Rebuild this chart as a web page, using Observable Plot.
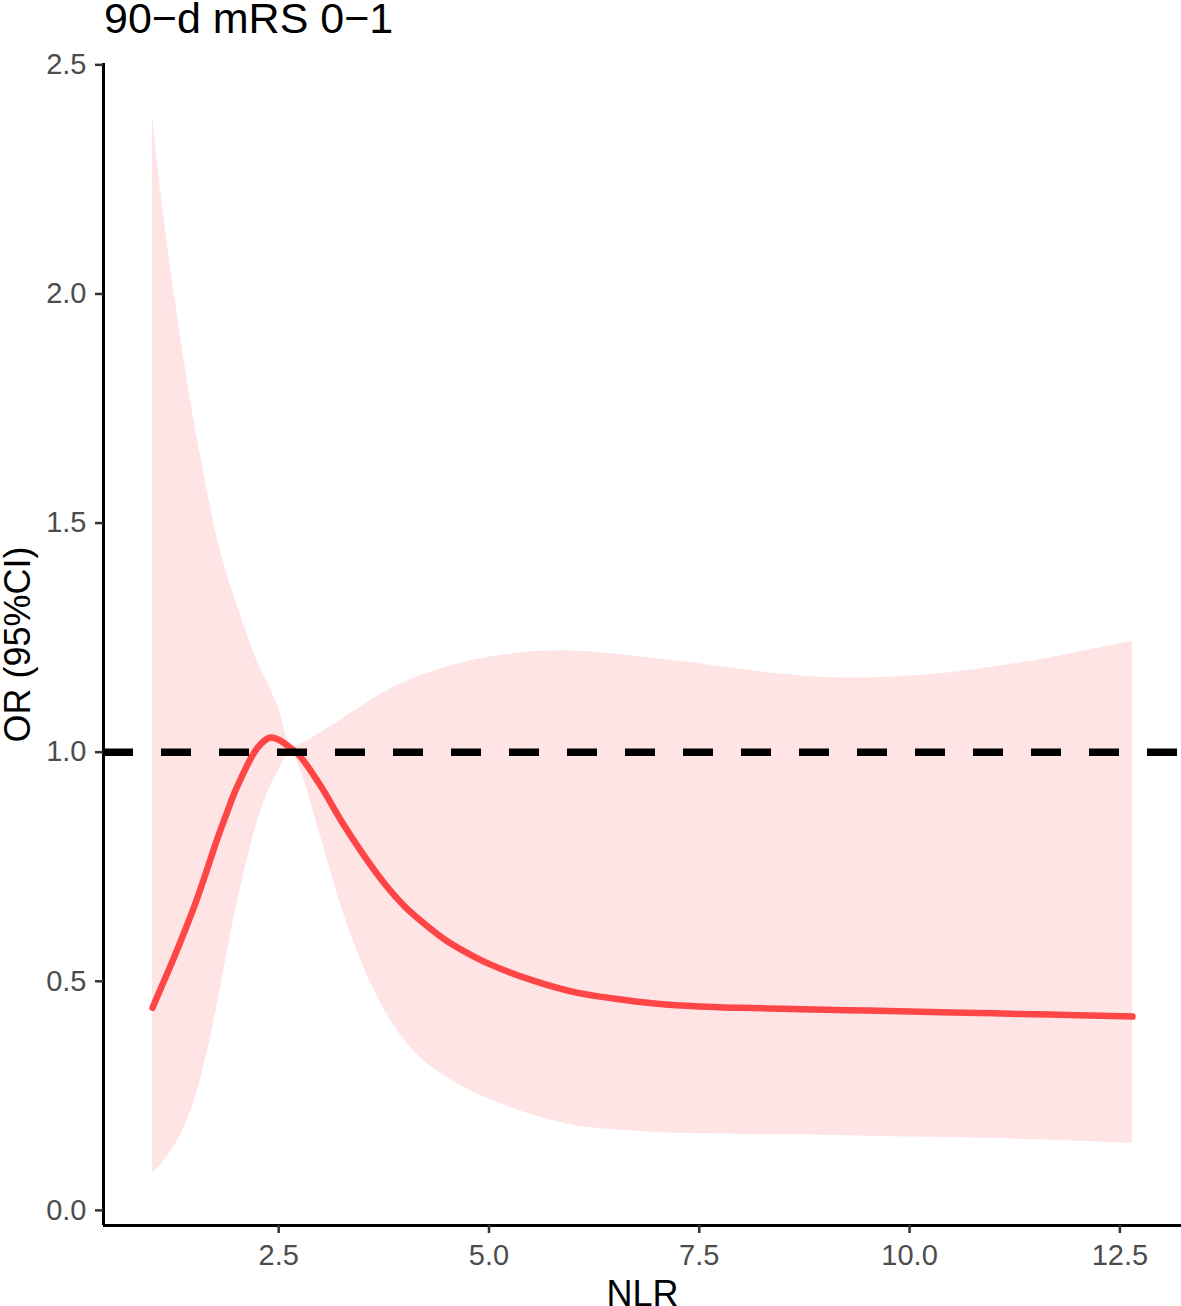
<!DOCTYPE html>
<html>
<head>
<meta charset="utf-8">
<script src="https://cdn.jsdelivr.net/npm/d3@7"></script>
<script src="https://cdn.jsdelivr.net/npm/@observablehq/plot@0.6"></script>
<style>
  body { margin: 0; background: #fff; font-family: "Liberation Sans", Arial, sans-serif; }
  #title { position: relative; height: 44px; width: 1181px; }
  #title span { position: absolute; left: 104px; top: -3px; font-size: 43px; line-height: 43px; color: #000; white-space: nowrap; }
</style>
</head>
<body>
<div id="title"><span>90−d mRS 0−1</span></div>
<div id="chart"></div>
<script>
// NLR values (x) and odds ratio estimates with 95% CI
const nlr     = [1.0, 1.1, 1.25, 1.375, 1.5, 1.625, 1.75, 1.875, 2.0, 2.25, 2.4, 2.5, 2.65, 2.75, 3.0, 3.25, 3.5, 3.75, 4.0, 4.25, 4.5, 4.75, 5.0, 5.5, 6.0, 6.5, 7.0, 7.5, 8.0, 8.5, 9.0, 9.5, 10.0, 10.5, 11.0, 11.5, 12.0, 12.65];
const orEst   = [0.442, 0.485, 0.549, 0.606, 0.665, 0.731, 0.800, 0.863, 0.922, 1.010, 1.032, 1.027, 1.008, 0.992, 0.926, 0.848, 0.778, 0.715, 0.663, 0.623, 0.588, 0.561, 0.538, 0.503, 0.477, 0.462, 0.451, 0.445, 0.442, 0.440, 0.438, 0.436, 0.434, 0.432, 0.430, 0.428, 0.426, 0.423];
const ciUpper = [2.391, 2.220, 2.012, 1.858, 1.716, 1.596, 1.482, 1.396, 1.325, 1.196, 1.138, 1.096, 1.015, 1.017, 1.043, 1.072, 1.102, 1.130, 1.153, 1.171, 1.186, 1.198, 1.207, 1.219, 1.221, 1.214, 1.204, 1.193, 1.181, 1.170, 1.163, 1.162, 1.166, 1.174, 1.186, 1.200, 1.218, 1.242];
const ciLower = [0.081, 0.100, 0.137, 0.180, 0.240, 0.325, 0.430, 0.550, 0.665, 0.850, 0.925, 0.960, 1.002, 0.966, 0.815, 0.660, 0.535, 0.440, 0.370, 0.322, 0.290, 0.264, 0.243, 0.209, 0.186, 0.176, 0.170, 0.167, 0.166, 0.165, 0.164, 0.162, 0.160, 0.159, 0.157, 0.154, 0.151, 0.146];
const xTicks = [2.5, 5.0, 7.5, 10.0, 12.5];
const yTicks = [0.0, 0.5, 1.0, 1.5, 2.0, 2.5];
const refLine = [1];
const xLabel = "NLR";
const yLabel = "OR (95%CI)";

const rows = nlr.map((x, i) => ({x, est: orEst[i], lo: ciLower[i], hi: ciUpper[i]}));
const xDomain = [0.4175, 13.2325];
const yDomain = [-0.033, 2.503];

const chart = Plot.plot({
  width: 1181,
  height: 1262,
  marginLeft: 103,
  marginRight: 0,
  marginTop: 19,
  marginBottom: 81,
  style: {fontFamily: "'Liberation Sans', Arial, sans-serif", background: "#fff", overflow: "visible"},
  x: {domain: xDomain, axis: null},
  y: {domain: yDomain, axis: null},
  marks: [
    Plot.areaY(rows, {x: "x", y1: "lo", y2: "hi", curve: "catmull-rom", fill: "#FFE4E6"}),
    Plot.line(rows, {x: "x", y: "est", curve: "catmull-rom", stroke: "#FF4646", strokeWidth: 6.5}),
    Plot.ruleY(refLine, {stroke: "#000", strokeWidth: 7.5, strokeDasharray: "30,28"}),
    Plot.ruleX([xDomain[0]], {stroke: "#000", strokeWidth: 3}),
    Plot.ruleY([yDomain[0]], {stroke: "#000", strokeWidth: 3}),
    Plot.axisX(xTicks, {tickFormat: d3.format(".1f"), tickSize: 8, tickPadding: 11, fontSize: 29, fill: "#4d4d4d", stroke: "#333", strokeWidth: 2.5, label: null}),
    Plot.axisY(yTicks, {tickFormat: d3.format(".1f"), tickSize: 8, tickPadding: 9, fontSize: 29, fill: "#4d4d4d", stroke: "#333", strokeWidth: 2.5, label: null}),
    Plot.text([xLabel], {text: d => d, frameAnchor: "bottom", dy: 80, fontSize: 36, fill: "#000"}),
    Plot.text([yLabel], {text: d => d, frameAnchor: "left", dx: -85, rotate: -90, textAnchor: "middle", fontSize: 36, fill: "#000"})
  ]
});
document.getElementById("chart").appendChild(chart);
</script>
</body>
</html>
